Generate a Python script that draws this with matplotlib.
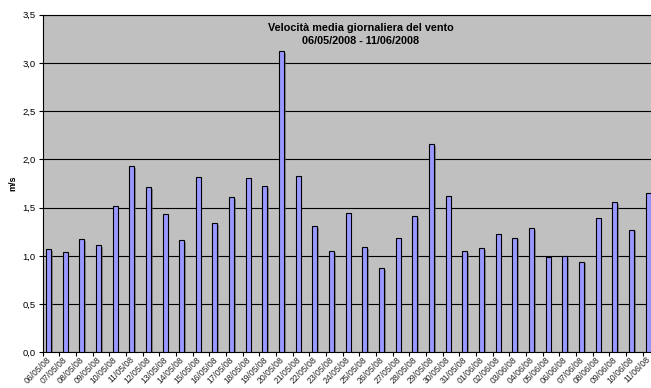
import numpy as np
import matplotlib
matplotlib.use('Agg')
import matplotlib.pyplot as plt
import matplotlib.patheffects as pe
from matplotlib.ticker import FuncFormatter, MultipleLocator

plt.rcParams['font.family'] = ['Liberation Sans', 'DejaVu Sans']

# daily mean wind speed (m/s)
dates = ['06/05/08', '07/05/08', '08/05/08', '09/05/08', '10/05/08', '11/05/08',
         '12/05/08', '13/05/08', '14/05/08', '15/05/08', '16/05/08', '17/05/08',
         '18/05/08', '19/05/08', '20/05/08', '21/05/08', '22/05/08', '23/05/08',
         '24/05/08', '25/05/08', '26/05/08', '27/05/08', '28/05/08', '29/05/08',
         '30/05/08', '31/05/08', '01/06/08', '02/06/08', '03/06/08', '04/06/08',
         '05/06/08', '06/06/08', '07/06/08', '08/06/08', '09/06/08', '10/06/08',
         '11/06/08']
speed = [1.07, 1.04, 1.17, 1.11, 1.52, 1.93, 1.71, 1.43, 1.16, 1.82, 1.34, 1.61,
         1.81, 1.72, 3.12, 1.83, 1.31, 1.05, 1.44, 1.09, 0.87, 1.18, 1.41, 2.16,
         1.62, 1.05, 1.08, 1.23, 1.19, 1.29, 0.99, 1.00, 0.94, 1.39, 1.56, 1.27,
         1.65]

fig = plt.figure(figsize=(6.51, 3.88), dpi=100)
ax = fig.add_axes([0.0656, 0.092, 0.947, 0.870])
ax.set_facecolor('#C0C0C0')

x = np.arange(len(dates))
ax.bar(x - 0.16, speed, width=0.3, color='#9999FF', edgecolor='black',
       linewidth=0.8, zorder=3,
       path_effects=[pe.SimplePatchShadow(offset=(1.2, -1.2), shadow_rgbFace='#606060', alpha=0.6),
                     pe.Normal()])

ax.set_xlim(-0.5, len(dates) - 0.5)
ax.set_ylim(0, 3.5)
ax.yaxis.set_major_locator(MultipleLocator(0.5))
ax.yaxis.set_major_formatter(FuncFormatter(lambda v, p: ('%.1f' % v).replace('.', ',')))
ax.grid(axis='y', color='black', linewidth=0.8, zorder=1)

# boundary ticks between days, labels under the bars
ax.set_xticks(np.arange(len(dates) + 1) - 0.5, minor=False)
ax.set_xticklabels([])
ax.set_xticks(x - 0.3, minor=True)
ax.set_xticklabels(dates, minor=True, rotation=45, ha='right', va='top',
                   rotation_mode='anchor', fontsize=6.2, color='#222222')
ax.tick_params(axis='x', which='minor', length=0, pad=2)
ax.tick_params(axis='x', which='major', length=3, width=0.8, direction='out')
ax.tick_params(axis='y', length=3, width=0.8, direction='out', labelsize=6.8, pad=2)

for side in ['left', 'bottom', 'top', 'right']:
    ax.spines[side].set_color('black')
    ax.spines[side].set_linewidth(0.8)

ax.set_ylabel('m/s', fontsize=6.5, fontweight='bold', labelpad=4)
ax.text(0.516, 0.975, 'Velocità media giornaliera del vento\n06/05/2008 - 11/06/2008',
        transform=ax.transAxes, ha='center', va='top', fontsize=7.8,
        fontweight='bold', linespacing=1.4, zorder=5)

fig.savefig('out.png', dpi=100)
